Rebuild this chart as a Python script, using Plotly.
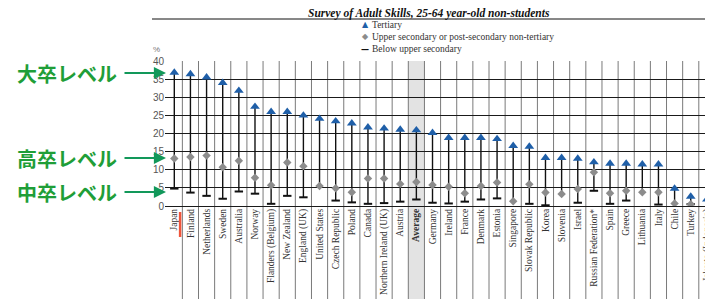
import plotly.graph_objects as go

categories = ["Japan", "Finland", "Netherlands", "Sweden", "Australia", "Norway",
              "Flanders (Belgium)", "New Zealand", "England (UK)", "United States",
              "Czech Republic", "Poland", "Canada", "Northern Ireland (UK)", "Austria",
              "Average", "Germany", "Ireland", "France", "Denmark", "Estonia", "Singapore",
              "Slovak Republic", "Korea", "Slovenia", "Israel", "Russian Federation*",
              "Spain", "Greece", "Lithuania", "Italy", "Chile", "Turkey", "Jakarta (Indonesia)"]
tertiary = [36.8, 36.4, 35.5, 34.0, 31.8, 27.4, 26.0, 26.0, 25.0, 24.1, 23.4, 22.8, 21.7,
            21.4, 21.1, 20.9, 20.2, 18.8, 18.8, 18.8, 18.5, 16.6, 16.4, 13.3, 13.3, 13.1,
            12.1, 11.7, 11.7, 11.5, 11.5, 4.8, 2.6, 1.8]
upper_sec = [13.1, 13.5, 13.9, 10.7, 12.5, 7.8, 5.7, 12.0, 11.0, 5.5, 4.9, 3.8, 7.6,
             7.6, 6.1, 6.6, 5.8, 5.3, 3.5, 5.5, 6.5, 1.3, 6.0, 3.7, 3.3, 4.7,
             9.3, 3.5, 4.2, 3.8, 3.8, 0.7, 0.5, None]
below_sec = [4.8, 3.7, 2.8, 2.0, 4.0, 3.4, 0.6, 2.8, 2.4, None, 1.5, 1.0, 0.6,
             0.8, 1.2, 1.8, 0.9, 0.7, 1.2, 1.8, 2.1, None, 0.6, 0.2, None, 0.9,
             4.2, 0.6, 1.5, None, 0.4, None, 0.5, None]
y_ticks = [0, 5, 10, 15, 20, 25, 30, 35, 40]

idx = list(range(len(categories)))
avg_i = categories.index("Average")
ticktext = ["<b>%s</b>" % c if c == "Average" else c for c in categories]

# stems
sx, sy = [], []
for i, t, u, b in zip(idx, tertiary, upper_sec, below_sec):
    lows = [v for v in (u, b) if v is not None]
    if lows:
        sx += [i, i, None]
        sy += [t, min(lows), None]

fig = go.Figure()
fig.add_trace(go.Scatter(x=sx, y=sy, mode="lines", line=dict(color="#111", width=1.4),
                         hoverinfo="skip", showlegend=False))
fig.add_trace(go.Scatter(x=idx, y=below_sec, mode="markers", name="Below upper secondary",
                         marker=dict(symbol="line-ew", size=6, line=dict(color="#111", width=2)),
                         showlegend=False))
fig.add_trace(go.Scatter(x=idx, y=upper_sec, mode="markers",
                         name="Upper secondary or post-secondary non-tertiary",
                         marker=dict(symbol="diamond", size=6.5, color="#8c8c8c"),
                         showlegend=False))
fig.add_trace(go.Scatter(x=idx, y=tertiary, mode="markers", name="Tertiary",
                         marker=dict(symbol="triangle-up", size=8.5, color="#1f5fa8"),
                         showlegend=False))

# page is drawn with an 8px body margin: figure pixel = page pixel - 8
OFF = 8
W, H = 713 - OFF, 299 - OFF
L = 165 - OFF            # plot left (page x 165)
top = 61 - OFF           # plot top (page y 61)
bot = 299 - 206          # plot bottom at page y 206
pw = W - L
ph = H - top - bot


def py(page_y):
    return (206 - page_y) / ph


def px(page_x):
    return (page_x - 165) / pw


shapes = []
y_bottom = py(299)
# Average shading
shapes.append(dict(type="rect", xref="x", yref="paper", x0=avg_i - 0.5, x1=avg_i + 0.5,
                   y0=y_bottom, y1=1, fillcolor="#e3e3e3", line=dict(width=0), layer="below"))
# vertical separators
for i in idx[:-1]:
    shapes.append(dict(type="line", xref="x", yref="paper", x0=i + 0.5, x1=i + 0.5,
                       y0=y_bottom, y1=1, line=dict(color="#7a7a7a", width=1), layer="below"))
# title rule
shapes.append(dict(type="line", xref="paper", yref="paper", x0=px(152), x1=1,
                   y0=py(19), y1=py(19), line=dict(color="#111", width=1)))
# Japan highlight
shapes.append(dict(type="line", xref="x", yref="paper", x0=0.36, x1=0.36,
                   y0=py(212), y1=py(237), line=dict(color="#f0553a", width=2.5)))

serif = "Liberation Serif"
ann = []
ann.append(dict(text="<b><i>Survey of Adult Skills, 25-64 year-old non-students</i></b>",
                xref="paper", yref="paper", x=px(429), y=py(13), showarrow=False,
                font=dict(family=serif, size=11.5, color="#111"), xanchor="center",
                yanchor="middle"))
ann.append(dict(text="%", xref="paper", yref="paper", x=px(156), y=py(49), showarrow=False,
                font=dict(family="Liberation Sans", size=8, color="#777"), xanchor="center",
                yanchor="middle"))
leg = [("▲", "#1f5fa8", "Tertiary", 25),
       ("◆", "#8c8c8c", "Upper secondary or post-secondary non-tertiary", 37),
       ("<b>—</b>", "#111", "Below upper secondary", 49)]
for sym, col, txt, yy in leg:
    ann.append(dict(text=sym, xref="paper", yref="paper", x=px(365), y=py(yy), showarrow=False,
                    font=dict(family="DejaVu Sans", size=8, color=col), xanchor="center",
                    yanchor="middle"))
    ann.append(dict(text=txt, xref="paper", yref="paper", x=px(370), y=py(yy), showarrow=False,
                    font=dict(family=serif, size=9.5, color="#333"), xanchor="left",
                    yanchor="middle"))

green_t = "#1f9e38"
green_a = "#12985a"
for txt, yy in [("大卒レベル", 73), ("高卒レベル", 158), ("中卒レベル", 192)]:
    ann.append(dict(text="<b>%s</b>" % txt, xref="paper", yref="paper", x=px(66.5), y=py(yy),
                    showarrow=False, font=dict(family="Noto Sans CJK JP", size=20, color=green_t),
                    xanchor="center", yanchor="middle"))
    ann.append(dict(text="", xref="paper", yref="paper", x=px(166), y=py(yy),
                    ax=-43, ay=0, axref="pixel", ayref="pixel", showarrow=True,
                    arrowhead=2, arrowsize=1.1, arrowwidth=2.2, arrowcolor=green_a))

fig.update_layout(
    width=W, height=H,
    margin=dict(l=L, r=0, t=top, b=bot),
    paper_bgcolor="white", plot_bgcolor="rgba(0,0,0,0)",
    shapes=shapes, annotations=ann, showlegend=False,
    xaxis=dict(range=[-0.576, 33.38], tickvals=idx, ticktext=ticktext, tickangle=-90,
               showgrid=False, zeroline=False, showline=False, automargin=False,
               tickfont=dict(family=serif, size=9.5, color="#333"), ticks=""),
    yaxis=dict(range=[0, 40], tickvals=y_ticks, showgrid=True, gridcolor="#1a1a1a",
               gridwidth=1.2, zeroline=True, zerolinecolor="#1a1a1a", zerolinewidth=1.2,
               showline=False, automargin=False,
               tickfont=dict(family="Liberation Sans", size=10, color="#555")),
)

fig.write_html("out.html")
